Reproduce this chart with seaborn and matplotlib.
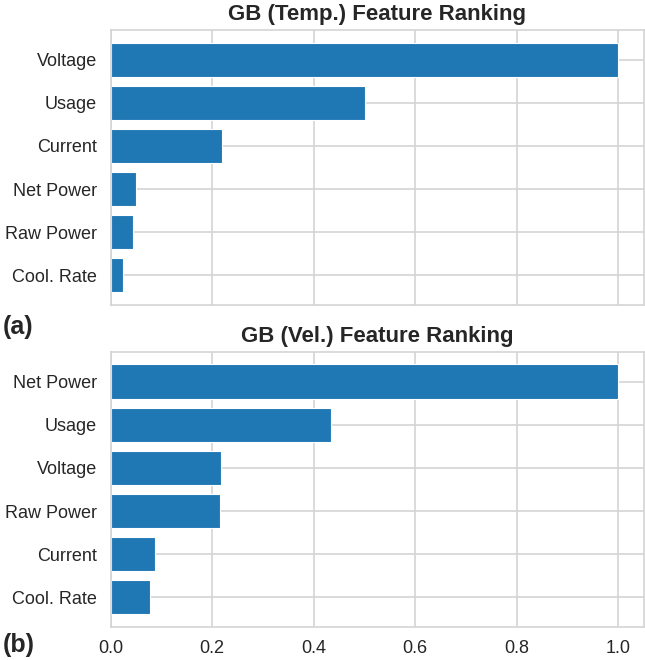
import matplotlib
matplotlib.use("Agg")
import matplotlib.pyplot as plt
import seaborn as sns
import pandas as pd

temp_features = ["Voltage", "Usage", "Current", "Net Power", "Raw Power", "Cool. Rate"]
temp_values = [1.0, 0.501, 0.219, 0.050, 0.043, 0.024]

vel_features = ["Net Power", "Usage", "Voltage", "Raw Power", "Current", "Cool. Rate"]
vel_values = [1.0, 0.434, 0.218, 0.216, 0.087, 0.077]

x_ticks = [0.0, 0.2, 0.4, 0.6, 0.8, 1.0]
x_tick_labels = ["0.0", "0.2", "0.4", "0.6", "0.8", "1.0"]

sns.set_theme(style="whitegrid")
plt.rcParams["font.family"] = ["Liberation Sans", "DejaVu Sans"]
plt.rcParams["grid.color"] = "#d4d4d4"
plt.rcParams["axes.edgecolor"] = "#d4d4d4"

fig = plt.figure(figsize=(6.45, 6.6), dpi=100)
ax1 = fig.add_axes([0.1716, 0.538, 0.998 - 0.1716, 0.9545 - 0.538])
ax2 = fig.add_axes([0.1716, 0.05, 0.998 - 0.1716, 0.4667 - 0.05])

df_t = pd.DataFrame({"feature": temp_features, "importance": temp_values})
df_v = pd.DataFrame({"feature": vel_features, "importance": vel_values})

for ax, df, title in [(ax1, df_t, "GB (Temp.) Feature Ranking"),
                      (ax2, df_v, "GB (Vel.) Feature Ranking")]:
    sns.barplot(data=df, x="importance", y="feature", orient="h", ax=ax,
                color="#1f77b4", saturation=1, width=0.8,
                edgecolor="white", linewidth=0.8)
    ax.set_xlim(0, 1.05)
    ax.set_ylim(5.69, -0.69)
    ax.set_xticks(x_ticks)
    ax.set_xlabel("")
    ax.set_ylabel("")
    ax.set_title(title, fontsize=16, fontweight="bold", pad=7)
    ax.tick_params(axis="y", labelsize=13, pad=4)
    ax.tick_params(axis="x", labelsize=13)
    ax.grid(True, axis="both", linewidth=1.2)
    ax.set_axisbelow(True)
    for s in ax.spines.values():
        s.set_linewidth(1.2)

ax1.set_xticklabels([])
ax2.set_xticklabels(x_tick_labels)

fig.text(0.005, 0.505, "(a)", fontsize=18, fontweight="bold", va="center", ha="left")
fig.text(0.005, 0.022, "(b)", fontsize=18, fontweight="bold", va="center", ha="left")

fig.savefig("out.png", dpi=100)
